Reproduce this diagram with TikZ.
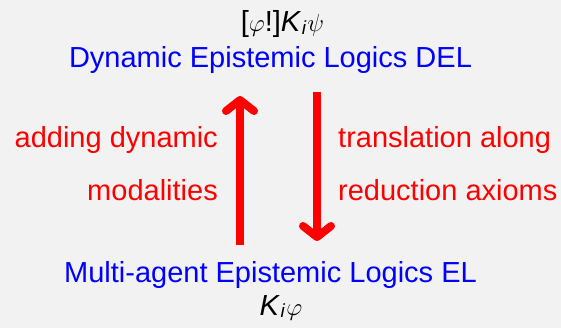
\documentclass[tikz,border=0pt]{standalone}
\usepackage{fontspec}
\setmainfont{Liberation Sans}
\usetikzlibrary{arrows.meta}
\definecolor{bg}{HTML}{F2F2F2}
\definecolor{dblue}{RGB}{0,0,255}
\definecolor{dred}{RGB}{255,0,0}
\newcommand{\subi}{\raisebox{-2.5pt}{\fontsize{19}{19}\selectfont\textit{i}}}
\begin{document}
\begin{tikzpicture}[x=1pt,y=-1pt,
  lbl/.style={font=\fontsize{29}{31}\selectfont, inner sep=0pt, anchor=base},
  logic/.style={lbl, text=dblue},
  note/.style={lbl, text=dred},
  formula/.style={font=\fontsize{29}{32}\selectfont, inner sep=0pt, anchor=base},
  bigarrow/.style={draw=dred, line width=8pt, -{Straight Barb[length=11pt,width=28pt,round]}}]
\fill[bg] (0,0) rectangle (561,328);
\useasboundingbox (0,0) rectangle (561,328);
\node[formula] (f1) at (282.5,32) {[$\varphi$!]\textit{K}\kern0.5pt\subi\kern1pt$\psi$};
\node[logic] (del) at (270.5,68) {Dynamic Epistemic Logics DEL};
\node[note, anchor=base east] (l1) at (218,148) {adding dynamic};
\node[note, anchor=base east] (l2) at (218,201) {modalities};
\node[note, anchor=base west] (r1) at (338,148) {translation along};
\node[note, anchor=base west] (r2) at (338,201) {reduction axioms};
\node[logic] (el) at (270.5,282) {Multi-agent Epistemic Logics EL};
\node[formula] (f2) at (281,315) {\textit{K}\kern0.5pt\subi\kern1pt$\varphi$};
\coordinate (upS) at (240,245);
\coordinate (upE) at (240,96);
\coordinate (dnS) at (317,92);
\coordinate (dnE) at (317,241);
\draw[bigarrow] (upS) -- (upE);
\draw[bigarrow] (dnS) -- (dnE);
\end{tikzpicture}
\end{document}
